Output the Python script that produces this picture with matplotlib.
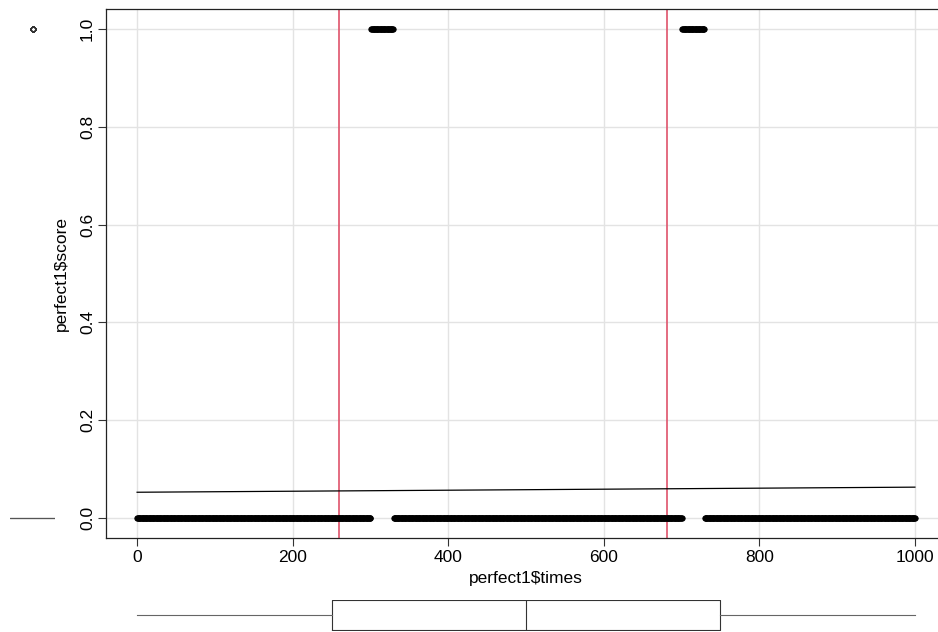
import numpy as np
import matplotlib
matplotlib.use("Agg")
import matplotlib.pyplot as plt

plt.rcParams['font.family'] = ['Liberation Sans', 'DejaVu Sans']

# ---- data ----
times = np.arange(0, 1001)                 # perfect1$times
one_intervals = [(301, 329), (701, 729)]    # spans where perfect1$score == 1
score = np.zeros(times.shape, dtype=float)
for a, b in one_intervals:
    score[(times >= a) & (times <= b)] = 1.0
changepoints = [260, 681]
x_ticks = [0, 200, 400, 600, 800, 1000]
y_ticks = [0.0, 0.2, 0.4, 0.6, 0.8, 1.0]

W, H = 938, 632
fig = plt.figure(figsize=(W / 100, H / 100), dpi=100)

def rect(x0, y0, x1, y1):
    return [x0 / W, (H - y1) / H, (x1 - x0) / W, (y1 - y0) / H]

ax = fig.add_axes(rect(106, 9.4, 946, 537.6))
ax.set_xlim(-40, 1040)
ax.set_ylim(-0.04, 1.04)

ax.set_xticks(x_ticks)
ax.set_yticks(y_ticks)
ax.set_yticklabels([f"{v:.1f}" for v in y_ticks], rotation=90, va='center')
ax.tick_params(axis='both', length=6, width=0.8, labelsize=12.5, color='#333333')
ax.tick_params(axis='y', pad=2)
ax.tick_params(axis='x', pad=3)
ax.grid(True, color='#E3E3E3', linewidth=1)
ax.set_axisbelow(True)
for s in ['left', 'bottom', 'top']:
    ax.spines[s].set_linewidth(0.9)
    ax.spines[s].set_color('#222222')
ax.spines['right'].set_visible(False)

ax.set_xlabel("perfect1$times", fontsize=12.5, labelpad=4)
ax.set_ylabel("perfect1$score", fontsize=12.5, labelpad=8)

# points
ax.plot(times, score, linestyle='none', marker='o', ms=3.9, mew=0.6,
        color='black', mec='black', zorder=3)

# least squares line
coef = np.polyfit(times, score, 1)
xs = np.array([times.min(), times.max()])
ax.plot(xs, np.polyval(coef, xs), color='black', linewidth=0.9, zorder=4)

# change points
for cp in changepoints:
    ax.axvline(cp, color='#DF536B', linewidth=1.2, zorder=2)

# bottom marginal boxplot (x)
axb = fig.add_axes(rect(106, 600, 946, 630.5), sharex=ax)
axb.boxplot(times, vert=False, positions=[0.5], widths=[1.0], showcaps=False,
            whis=1.5, manage_ticks=False,
            boxprops=dict(color='#333333', linewidth=0.8),
            medianprops=dict(color='#333333', linewidth=0.8),
            whiskerprops=dict(color='#666666', linewidth=0.8, linestyle='-'),
            flierprops=dict(marker='o', markerfacecolor='none',
                            markeredgecolor='#333333', markersize=4))
axb.set_ylim(-0.01, 1.01)
axb.axis('off')

# left marginal boxplot (y)
axl = fig.add_axes(rect(10, 9.4, 55, 537.6), sharey=ax)
axl.boxplot(score, vert=True, positions=[0.5], widths=[1.0], showcaps=False,
            whis=1.5, manage_ticks=False,
            boxprops=dict(color='#555555', linewidth=0.8),
            medianprops=dict(color='#555555', linewidth=0.8),
            whiskerprops=dict(color='#666666', linewidth=0.8, linestyle='-'),
            flierprops=dict(marker='o', markerfacecolor='none',
                            markeredgecolor='#333333', markersize=3.5,
                            markeredgewidth=0.6))
axl.set_xlim(-0.01, 1.01)
axl.axis('off')

fig.savefig("out.png", dpi=100)
